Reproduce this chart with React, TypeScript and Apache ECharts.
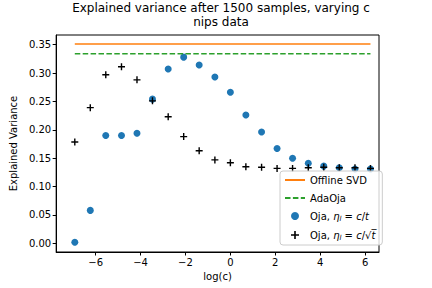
import React, { useEffect, useRef } from "react";
import * as echarts from "echarts";

const logC = [-6.93, -6.24, -5.55, -4.85, -4.16, -3.47, -2.77, -2.08, -1.39, -0.69, 0, 0.69, 1.39, 2.08, 2.77, 3.47, 4.16, 4.85, 5.55, 6.24];
const ojaCT = [0.002, 0.058, 0.19, 0.19, 0.194, 0.254, 0.307, 0.328, 0.314, 0.293, 0.266, 0.226, 0.196, 0.167, 0.15, 0.141, 0.136, 0.133, 0.131, 0.131];
const ojaCSqrtT = [0.1785, 0.239, 0.297, 0.311, 0.288, 0.251, 0.223, 0.188, 0.163, 0.147, 0.142, 0.135, 0.134, 0.132, 0.132, 0.133, 0.134, 0.133, 0.133, 0.132];
const offlineSVD = 0.351;
const adaOja = 0.334;
const yTicks = [0, 0.05, 0.1, 0.15, 0.2, 0.25, 0.3, 0.35];
const xTicks = [-6, -4, -2, 0, 2, 4, 6];

const FONT = "DejaVu Sans";
const CROSS = "path://M-0.8,-4H0.8V-0.8H4V0.8H0.8V4H-0.8V0.8H-4V-0.8H-0.8Z";

export default function App() {
  const ref = useRef<HTMLDivElement>(null);
  useEffect(() => {
    if (!ref.current) return;
    const chart = echarts.init(ref.current, null, { renderer: "svg" });
    const x0 = logC[0];
    const x1 = logC[logC.length - 1];
    const legendNames: Record<string, string> = {
      "Offline SVD": "Offline SVD",
      AdaOja: "AdaOja",
      "Oja c/t": "Oja, {i|η}{s|l}{n| = }{i|c}/{i|t}",
      "Oja c/sqrt t": "Oja, {i|η}{s|l}{n| = }{i|c}/√{i|t̅}",
    };
    chart.setOption({
      animation: false,
      textStyle: { fontFamily: FONT },
      title: {
        text: "Explained variance after 1500 samples, varying c\nnips data",
        left: 216,
        textAlign: "center",
        top: -4,
        textStyle: { fontFamily: FONT, fontSize: 12, fontWeight: "normal", color: "#000", lineHeight: 14 },
      },
      grid: { left: 54, right: 53, top: 35, bottom: 36, show: true, borderColor: "#000", borderWidth: 1, backgroundColor: "transparent" },
      xAxis: {
        type: "value",
        min: -7.76,
        max: 6.62,
        name: "log(c)",
        nameLocation: "middle",
        nameGap: 19,
        nameTextStyle: { fontFamily: FONT, fontSize: 10, color: "#000" },
        axisLine: { onZero: false, lineStyle: { color: "#000", width: 1 } },
        axisTick: { inside: false, length: 3.5, customValues: xTicks, lineStyle: { color: "#000" } },
        axisLabel: {
          customValues: xTicks,
          fontFamily: FONT,
          fontSize: 10,
          color: "#000",
          margin: 5,
          formatter: (v: number) => (v < 0 ? "\u2212" + Math.abs(v) : String(v)),
        },
        splitLine: { show: false },
      },
      yAxis: {
        type: "value",
        min: -0.0153,
        max: 0.367,
        name: "Explained Variance",
        nameLocation: "middle",
        nameGap: 36,
        nameTextStyle: { fontFamily: FONT, fontSize: 10, color: "#000" },
        axisLine: { show: true, onZero: false, lineStyle: { color: "#000", width: 1 } },
        axisTick: { show: true, inside: false, length: 3.5, customValues: yTicks, lineStyle: { color: "#000" } },
        axisLabel: {
          customValues: yTicks,
          fontFamily: FONT,
          fontSize: 10,
          color: "#000",
          margin: 5,
          formatter: (v: number) => v.toFixed(2),
        },
        splitLine: { show: false },
      },
      legend: {
        orient: "vertical",
        left: 280,
        top: 171,
        itemWidth: 20,
        itemHeight: 8,
        itemGap: 8,
        padding: [4, 7, 4, 4],
        borderColor: "#ccc",
        borderWidth: 1,
        borderRadius: 3,
        backgroundColor: "rgba(255,255,255,0.8)",
        data: [
          { name: "Offline SVD", itemStyle: { opacity: 0 } },
          { name: "AdaOja", itemStyle: { opacity: 0 } },
          { name: "Oja c/t", icon: "circle" },
          { name: "Oja c/sqrt t", icon: CROSS },
        ],
        formatter: (n: string) => legendNames[n] || n,
        textStyle: {
          fontFamily: FONT,
          fontSize: 10,
          color: "#000",
          rich: {
            i: { fontStyle: "italic", fontSize: 10, fontFamily: FONT, color: "#000" },
            s: { fontStyle: "italic", fontSize: 7, fontFamily: FONT, color: "#000", verticalAlign: "bottom", padding: [5, 0, 0, 0] },
            n: { fontSize: 10, fontFamily: FONT, color: "#000" },
          },
        },
      },
      series: [
        {
          name: "Offline SVD",
          type: "line",
          symbol: "none",
          data: [[x0, offlineSVD], [x1, offlineSVD]],
          lineStyle: { color: "#ff7f0e", width: 1.5 },
          itemStyle: { color: "#ff7f0e" },
        },
        {
          name: "AdaOja",
          type: "line",
          symbol: "none",
          data: [[x0, adaOja], [x1, adaOja]],
          lineStyle: { color: "#2ca02c", width: 1.5, type: [5.5, 2.4] },
          itemStyle: { color: "#2ca02c" },
        },
        {
          name: "Oja c/t",
          type: "scatter",
          symbol: "circle",
          symbolSize: 7,
          data: logC.map((x, i) => [x, ojaCT[i]]),
          itemStyle: { color: "#1f77b4", opacity: 1 },
        },
        {
          name: "Oja c/sqrt t",
          type: "scatter",
          symbol: CROSS,
          symbolSize: 7,
          data: logC.map((x, i) => [x, ojaCSqrtT[i]]),
          itemStyle: { color: "#000", opacity: 1 },
        },
      ],
    });
    return () => chart.dispose();
  }, []);
  return <div ref={ref} style={{ position: "absolute", left: 0, top: 0, width: 432, height: 288 }} />;
}
